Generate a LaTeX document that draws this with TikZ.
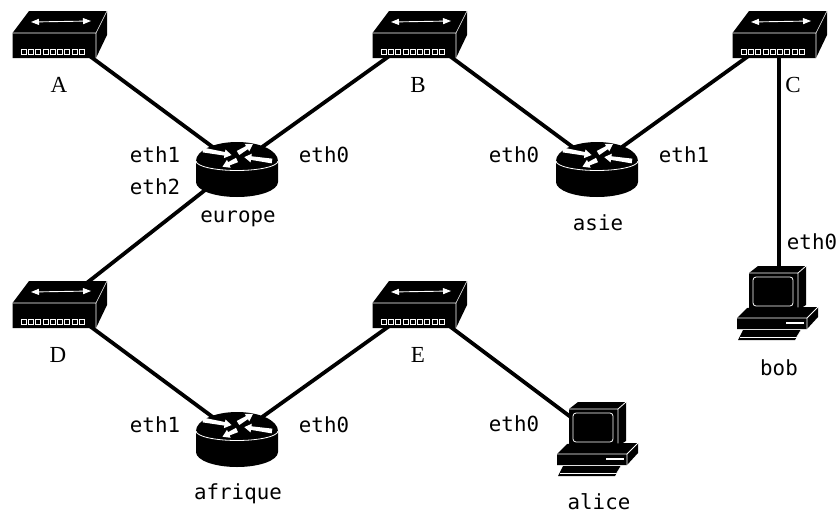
\documentclass[tikz,border=0pt]{standalone}
\usepackage{fontspec}
\setmainfont{Liberation Serif}
\newfontfamily\monofam{DejaVu Sans Mono}
\usetikzlibrary{arrows.meta}
\newcommand{\routerarrow}[4]{%
  \fill[white,shift={(#1,#2)},rotate=#3] (0,-2.4) -- ({#4-7},-1.8) -- ({#4-7},-4.4) -- (#4,0) -- ({#4-7},4.4) -- ({#4-7},1.8) -- (0,2.4) -- cycle;}
\tikzset{
  link/.style={line width=3.8pt},
  itf/.style={font=\monofam\fontsize{20.8}{24}\selectfont,inner sep=0pt,anchor=center},
  swlabel/.style={font=\fontsize{23}{27}\selectfont,inner sep=0pt,anchor=center},
  whiteedge/.style={draw=white,line width=0.8pt,line join=round},
  switchdev/.pic={
    \fill (-47.5,-1) -- (-31,-23) -- (47,-23) -- (47,1) -- (36,24) -- (-47.5,24) -- cycle;
    \draw[whiteedge,line width=0.6pt] (-47.5,-1) -- (36,-1) -- (47,-23) (36,-1) -- (36,24);
    \draw[white,line width=0.9pt,{Triangle[length=8pt,width=6pt]}-{Triangle[length=8pt,width=6pt]}] (-29,-12) -- (31,-13);
    \foreach \i in {0,...,8}
      \draw[white,line width=0.8pt] (-39+\i*7.3,15.5) rectangle ++(5,4.8);
  },
  routerdev/.pic={
    \fill (-41,-4) -- (-41,17) arc[start angle=180,end angle=0,x radius=41,y radius=15]
      -- (41,-4) arc[start angle=0,end angle=-180,x radius=41,y radius=19] -- cycle;
    \draw[whiteedge] (-41,-4) arc[start angle=180,end angle=0,x radius=41,y radius=9.5];
    \routerarrow{-34}{-15}{-10}{29}
    \routerarrow{1}{-12}{31}{17.5}
    \routerarrow{35}{-4}{172}{28}
    \routerarrow{0}{-5}{205}{16}
  },
  hostdev/.pic={
    \fill (-31,-37) -- (-22,-44) -- (26,-44) -- (26,-5) -- (18,0) -- (-31,0) -- cycle;
    \draw[whiteedge] (-31,-37) -- (18,-37) -- (26,-44) (18,-37) -- (18,0);
    \draw[whiteedge,rounded corners=3pt] (-27,-33) rectangle (13,-4);
    \fill (-43,8) -- (-33,-2) -- (38,-3) -- (38,7) -- (27,19) -- (-43,19) -- cycle;
    \draw[whiteedge] (-43,8) -- (27,8) -- (38,-3) (27,8) -- (27,19);
    \draw[white,line width=1.3pt] (6,13) -- (24,13);
    \fill (-37,20) -- (21,20) -- (15,30) -- (-42,30) -- cycle;
    \draw[whiteedge,line width=0.6pt] (-40,27.5) -- (16.5,27.5) -- (21,20);
  }
}
\begin{document}
\begin{tikzpicture}[x=1pt,y=-1pt]
\useasboundingbox (0,0) rectangle (840,514);
\coordinate (A) at (60,34);
\coordinate (B) at (420,34);
\coordinate (C) at (779,34);
\coordinate (D) at (60,304);
\coordinate (E) at (420,304);
\coordinate (europe) at (237,165);
\coordinate (asie) at (597,165);
\coordinate (afrique) at (237,435);
\coordinate (bob) at (779,303);
\coordinate (alice) at (600,439);
\draw[link] (A) -- (europe);
\draw[link] (B) -- (europe);
\draw[link] (D) -- (europe);
\draw[link] (B) -- (asie);
\draw[link] (C) -- (asie);
\draw[link] (C) -- (bob);
\draw[link] (D) -- (afrique);
\draw[link] (E) -- (afrique);
\draw[link] (E) -- (alice);
\foreach \n in {A,B,D,E} \pic at (\n) {switchdev};
\pic[xshift=1pt] at (C) {switchdev};
\foreach \n in {europe,asie,afrique} \pic at (\n) {routerdev};
\pic[xshift=1pt,yshift=-7pt] at (bob) {hostdev};
\pic[yshift=-7pt] at (alice) {hostdev};
\node[swlabel] (lA) at (59,85) {A};
\node[swlabel] (lB) at (418,85) {B};
\node[swlabel] (lC) at (793,85) {C};
\node[swlabel] (lD) at (58,355) {D};
\node[swlabel] (lE) at (418,355) {E};
\node[itf] (e1) at (155,155) {eth1};
\node[itf] (e2) at (155,187) {eth2};
\node[itf] (e0) at (324,155) {eth0};
\node[itf] (eur) at (238,219) {europe};
\node[itf] (a0) at (514,155) {eth0};
\node[itf] (a1) at (684,155) {eth1};
\node[itf] (asi) at (598,223) {asie};
\node[itf] (b0) at (812,242) {eth0};
\node[itf] (bb) at (779,368) {bob};
\node[itf] (f1) at (155,425) {eth1};
\node[itf] (f0) at (324,425) {eth0};
\node[itf] (afr) at (238,494) {afrique};
\node[itf] (c0) at (514,424) {eth0};
\node[itf] (al) at (599,502) {alice};
\end{tikzpicture}
\end{document}
